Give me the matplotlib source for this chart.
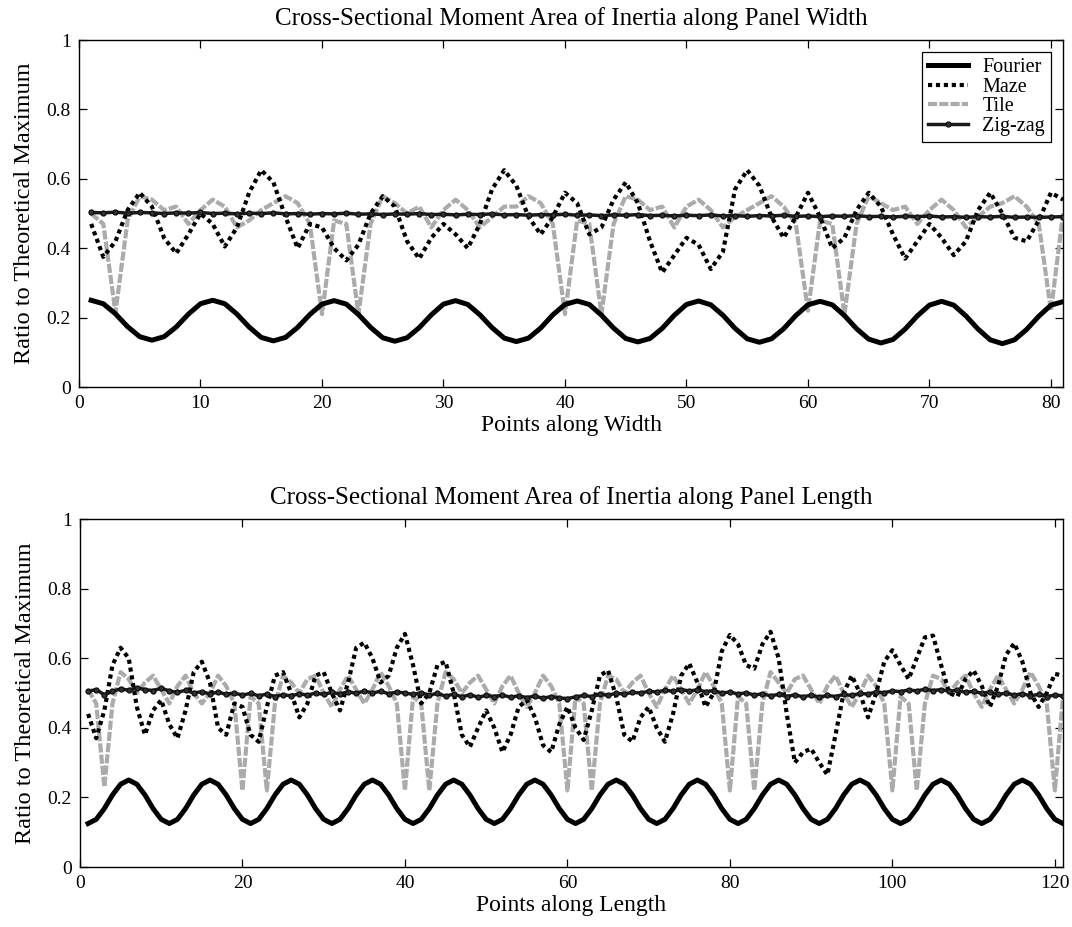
import numpy as np
import matplotlib
matplotlib.use("Agg")
import matplotlib.pyplot as plt

plt.rcParams['font.family'] = ['Liberation Serif', 'DejaVu Serif']

# ---- panel 1: along width (points 1..81) ----
fourier_w = [0.250, 0.240, 0.211, 0.174, 0.145, 0.135, 0.145, 0.173, 0.210, 0.240,
             0.250, 0.240, 0.210, 0.173, 0.143, 0.133, 0.143, 0.172, 0.209, 0.239,
             0.249, 0.239, 0.209, 0.172, 0.142, 0.132, 0.142, 0.171, 0.208, 0.239,
             0.249, 0.238, 0.208, 0.171, 0.141, 0.131, 0.141, 0.170, 0.208, 0.238,
             0.248, 0.238, 0.207, 0.170, 0.140, 0.130, 0.140, 0.169, 0.207, 0.238,
             0.248, 0.237, 0.207, 0.169, 0.139, 0.129, 0.139, 0.168, 0.206, 0.237,
             0.247, 0.237, 0.206, 0.168, 0.138, 0.127, 0.137, 0.167, 0.205, 0.236,
             0.247, 0.236, 0.205, 0.167, 0.136, 0.125, 0.136, 0.166, 0.204, 0.236,
             0.246]
maze_w = [0.47, 0.375, 0.42, 0.51, 0.56, 0.52, 0.43, 0.385, 0.44, 0.50,
          0.47, 0.405, 0.46, 0.56, 0.625, 0.59, 0.49, 0.40, 0.47, 0.46,
          0.40, 0.365, 0.41, 0.50, 0.55, 0.52, 0.42, 0.37, 0.43, 0.47,
          0.44, 0.40, 0.47, 0.57, 0.625, 0.58, 0.49, 0.44, 0.49, 0.56,
          0.53, 0.44, 0.46, 0.54, 0.59, 0.53, 0.42, 0.33, 0.38, 0.43,
          0.41, 0.34, 0.39, 0.57, 0.625, 0.58, 0.49, 0.43, 0.49, 0.56,
          0.49, 0.40, 0.43, 0.51, 0.56, 0.52, 0.44, 0.37, 0.42, 0.47,
          0.43, 0.38, 0.42, 0.51, 0.56, 0.50, 0.43, 0.42, 0.48, 0.56,
          0.54]
tile_w = [0.50, 0.47, 0.215, 0.48, 0.55, 0.54, 0.51, 0.52, 0.47, 0.51,
          0.54, 0.52, 0.46, 0.48, 0.51, 0.53, 0.55, 0.53, 0.47, 0.21,
          0.48, 0.47, 0.21, 0.47, 0.55, 0.53, 0.50, 0.52, 0.46, 0.51,
          0.54, 0.51, 0.46, 0.49, 0.52, 0.52, 0.55, 0.53, 0.47, 0.21,
          0.48, 0.47, 0.21, 0.47, 0.55, 0.54, 0.51, 0.52, 0.46, 0.52,
          0.54, 0.51, 0.46, 0.49, 0.51, 0.53, 0.55, 0.52, 0.47, 0.22,
          0.48, 0.47, 0.21, 0.47, 0.55, 0.53, 0.51, 0.52, 0.47, 0.51,
          0.54, 0.51, 0.46, 0.49, 0.52, 0.53, 0.55, 0.52, 0.47, 0.22,
          0.50]
zigzag_w = [0.503, 0.502, 0.504, 0.501, 0.503, 0.502, 0.500, 0.502, 0.501, 0.503,
            0.500, 0.501, 0.499, 0.501, 0.500, 0.502, 0.499, 0.500, 0.498, 0.500,
            0.499, 0.501, 0.498, 0.499, 0.497, 0.499, 0.498, 0.500, 0.497, 0.498,
            0.496, 0.498, 0.497, 0.499, 0.496, 0.497, 0.495, 0.497, 0.496, 0.498,
            0.495, 0.496, 0.494, 0.496, 0.495, 0.497, 0.494, 0.495, 0.493, 0.495,
            0.494, 0.496, 0.493, 0.494, 0.492, 0.494, 0.493, 0.495, 0.492, 0.493,
            0.491, 0.493, 0.492, 0.494, 0.491, 0.492, 0.490, 0.492, 0.491, 0.493,
            0.490, 0.491, 0.489, 0.491, 0.490, 0.492, 0.489, 0.490, 0.489, 0.490,
            0.491]

# ---- panel 2: along length (points 1..121) ----
fourier_l = [0.125, 0.137, 0.168, 0.207, 0.238, 0.250, 0.238, 0.207, 0.168, 0.137,
             0.125, 0.137, 0.168, 0.207, 0.238, 0.250, 0.238, 0.207, 0.168, 0.137,
             0.125, 0.137, 0.168, 0.207, 0.238, 0.250, 0.238, 0.207, 0.168, 0.137,
             0.125, 0.137, 0.168, 0.207, 0.238, 0.250, 0.238, 0.207, 0.168, 0.137,
             0.125, 0.137, 0.168, 0.207, 0.238, 0.250, 0.238, 0.207, 0.168, 0.137,
             0.125, 0.137, 0.168, 0.207, 0.238, 0.250, 0.238, 0.207, 0.168, 0.137,
             0.125, 0.137, 0.168, 0.207, 0.238, 0.250, 0.238, 0.207, 0.168, 0.137,
             0.125, 0.137, 0.168, 0.207, 0.238, 0.250, 0.238, 0.207, 0.168, 0.137,
             0.125, 0.137, 0.168, 0.207, 0.238, 0.250, 0.238, 0.207, 0.168, 0.137,
             0.125, 0.137, 0.168, 0.207, 0.238, 0.250, 0.238, 0.207, 0.168, 0.137,
             0.125, 0.137, 0.168, 0.207, 0.238, 0.250, 0.238, 0.207, 0.168, 0.137,
             0.125, 0.137, 0.168, 0.207, 0.238, 0.250, 0.238, 0.207, 0.168, 0.137,
             0.125]
maze_l = [0.44, 0.37, 0.45, 0.58, 0.63, 0.60, 0.46, 0.38, 0.45, 0.48,
          0.41, 0.37, 0.45, 0.56, 0.59, 0.53, 0.40, 0.38, 0.47, 0.46,
          0.38, 0.36, 0.46, 0.55, 0.56, 0.50, 0.43, 0.47, 0.55, 0.56,
          0.50, 0.45, 0.53, 0.63, 0.645, 0.60, 0.53, 0.55, 0.63, 0.67,
          0.58, 0.47, 0.50, 0.58, 0.59, 0.50, 0.38, 0.345, 0.40, 0.45,
          0.40, 0.33, 0.38, 0.46, 0.48, 0.43, 0.35, 0.33, 0.41, 0.46,
          0.40, 0.365, 0.45, 0.55, 0.565, 0.49, 0.38, 0.36, 0.43, 0.46,
          0.40, 0.36, 0.44, 0.55, 0.585, 0.53, 0.46, 0.50, 0.62, 0.667,
          0.64, 0.58, 0.57, 0.64, 0.676, 0.60, 0.44, 0.30, 0.33, 0.34,
          0.30, 0.265, 0.38, 0.50, 0.55, 0.50, 0.43, 0.50, 0.59, 0.623,
          0.58, 0.54, 0.60, 0.66, 0.665, 0.58, 0.50, 0.49, 0.54, 0.565,
          0.52, 0.46, 0.52, 0.61, 0.643, 0.59, 0.50, 0.46, 0.50, 0.555,
          0.55]
tile_l = [0.51, 0.47, 0.23, 0.47, 0.56, 0.54, 0.50, 0.53, 0.55, 0.51,
          0.47, 0.52, 0.55, 0.50, 0.47, 0.50, 0.55, 0.52, 0.47, 0.22,
          0.49, 0.47, 0.22, 0.47, 0.55, 0.53, 0.50, 0.54, 0.55, 0.50,
          0.46, 0.51, 0.55, 0.51, 0.47, 0.51, 0.56, 0.52, 0.47, 0.22,
          0.49, 0.47, 0.22, 0.47, 0.56, 0.54, 0.50, 0.53, 0.55, 0.51,
          0.47, 0.52, 0.55, 0.50, 0.46, 0.50, 0.55, 0.52, 0.47, 0.22,
          0.49, 0.47, 0.22, 0.47, 0.55, 0.54, 0.50, 0.53, 0.55, 0.50,
          0.46, 0.51, 0.55, 0.51, 0.47, 0.51, 0.56, 0.52, 0.47, 0.22,
          0.49, 0.47, 0.22, 0.47, 0.56, 0.53, 0.50, 0.54, 0.55, 0.51,
          0.47, 0.52, 0.55, 0.50, 0.46, 0.50, 0.55, 0.52, 0.47, 0.22,
          0.49, 0.47, 0.22, 0.47, 0.55, 0.54, 0.50, 0.53, 0.55, 0.50,
          0.46, 0.51, 0.55, 0.51, 0.47, 0.51, 0.56, 0.52, 0.47, 0.22,
          0.49]
zigzag_l = [0.505, 0.510, 0.495, 0.505, 0.512, 0.508, 0.515, 0.510, 0.507, 0.514,
            0.506, 0.502, 0.508, 0.500, 0.504, 0.497, 0.503, 0.496, 0.500, 0.494,
            0.499, 0.492, 0.497, 0.490, 0.495, 0.492, 0.498, 0.494, 0.500, 0.496,
            0.502, 0.497, 0.504, 0.499, 0.506, 0.500, 0.505, 0.498, 0.503, 0.500,
            0.496, 0.501, 0.494, 0.499, 0.491, 0.497, 0.489, 0.495, 0.488, 0.493,
            0.490, 0.494, 0.488, 0.492, 0.487, 0.491, 0.485, 0.490, 0.486, 0.484,
            0.489, 0.493, 0.490, 0.496, 0.494, 0.499, 0.497, 0.502, 0.500, 0.505,
            0.503, 0.508, 0.505, 0.510, 0.506, 0.509, 0.504, 0.507, 0.500, 0.503,
            0.497, 0.501, 0.494, 0.498, 0.492, 0.496, 0.490, 0.495, 0.489, 0.494,
            0.488, 0.493, 0.490, 0.496, 0.493, 0.499, 0.497, 0.503, 0.501, 0.506,
            0.504, 0.509, 0.506, 0.511, 0.507, 0.510, 0.505, 0.508, 0.502, 0.505,
            0.499, 0.503, 0.496, 0.500, 0.494, 0.498, 0.492, 0.496, 0.490, 0.494,
            0.492]

names = ['Fourier', 'Maze', 'Tile', 'Zig-zag']
yticks = [0, 0.2, 0.4, 0.6, 0.8, 1]
ytick_labels = ['0', '0.2', '0.4', '0.6', '0.8', '1']


def draw(ax, fourier, maze, tile, zigzag):
    ax.plot(np.arange(1, len(tile) + 1), tile, color='#ababab', lw=3.0,
            dashes=(2.2, 0.5), label=names[2], zorder=2)
    ax.plot(np.arange(1, len(maze) + 1), maze, color='black', lw=3.0,
            dashes=(1, 0.9), label=names[1], zorder=3)
    ax.plot(np.arange(1, len(zigzag) + 1), zigzag, color='#1a1a1a', lw=2.5,
            marker='o', markersize=3.5, markerfacecolor='#333333',
            markeredgecolor='#111111', label=names[3], zorder=4)
    ax.plot(np.arange(1, len(fourier) + 1), fourier, color='black', lw=3.6,
            solid_joinstyle='round', label=names[0], zorder=5)
    ax.set_ylim(0, 1)
    ax.set_yticks(yticks)
    ax.set_yticklabels(ytick_labels)
    ax.tick_params(direction='in', top=True, right=True, labelsize=14,
                   length=6, width=0.9, pad=6)
    for s in ax.spines.values():
        s.set_linewidth(1.0)


fig = plt.figure(figsize=(10.72, 9.27), dpi=100)

ax1 = fig.add_axes([0.0737, 0.5825, 0.918, 0.3743])
draw(ax1, fourier_w, maze_w, tile_w, zigzag_w)
ax1.set_xlim(0, 81)
ax1.set_xticks(range(0, 81, 10))
ax1.set_title('Cross-Sectional Moment Area of Inertia along Panel Width',
              fontsize=18, pad=11)
ax1.set_xlabel('Points along Width', fontsize=17, labelpad=2)
ax1.set_ylabel('Ratio to Theoretical Maximum', fontsize=17.5, labelpad=8)
h, l = ax1.get_legend_handles_labels()
order = [l.index(n) for n in names]
leg = ax1.legend([h[i] for i in order], [l[i] for i in order], loc='upper right',
                 fontsize=14.5, fancybox=False, edgecolor='black', framealpha=1,
                 borderaxespad=0.6, handlelength=2.0, labelspacing=0.02,
                 borderpad=0.3, handletextpad=0.7)
leg.get_frame().set_linewidth(0.9)

ax2 = fig.add_axes([0.0746, 0.0647, 0.917, 0.3754])
draw(ax2, fourier_l, maze_l, tile_l, zigzag_l)
ax2.set_xlim(0, 121)
ax2.set_xticks(range(0, 121, 20))
ax2.set_title('Cross-Sectional Moment Area of Inertia along Panel Length',
              fontsize=18, pad=11)
ax2.set_xlabel('Points along Length', fontsize=17, labelpad=2)
ax2.set_ylabel('Ratio to Theoretical Maximum', fontsize=17.5, labelpad=8)

fig.savefig('out.png', dpi=100)
